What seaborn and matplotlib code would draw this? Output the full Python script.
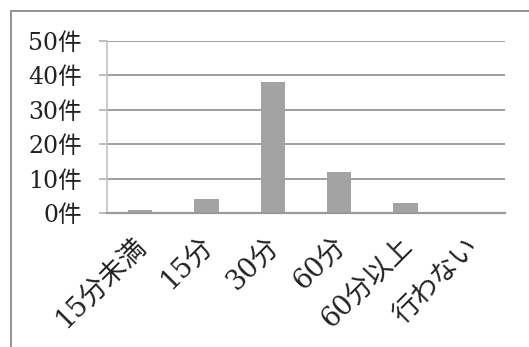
import matplotlib
matplotlib.use("Agg")
import matplotlib.pyplot as plt
import matplotlib.transforms as mtransforms
from matplotlib.patches import Rectangle
import seaborn as sns
import pandas as pd

categories = ["15分未満", "15分", "30分", "60分", "60分以上", "行わない"]
counts = [1, 4, 38, 12, 3, 0]
y_ticks = [0, 10, 20, 30, 40, 50]
y_labels = [f"{v}件" for v in y_ticks]

sns.set_theme(style="white")
plt.rcParams["font.family"] = ["DejaVu Serif", "Noto Sans CJK JP", "DejaVu Sans"]

W, H = 529, 347
fig = plt.figure(figsize=(W / 100, H / 100), dpi=100)
fig.patch.set_facecolor("white")
ax = fig.add_axes([107 / W, 1 - 213 / H, (505 - 107) / W, (213 - 41) / H])

df = pd.DataFrame({"category": categories, "count": counts})
sns.barplot(data=df, x="category", y="count", color="#a3a3a3", width=0.37,
            saturation=1, ax=ax, edgecolor="none")

ax.set_ylim(0, 50)
ax.set_xlim(-0.5, len(categories) - 0.5)
ax.set_yticks(y_ticks)
ax.set_yticklabels(y_labels, fontsize=17, color="#222222")
ax.set_xlabel("")
ax.set_ylabel("")

ax.yaxis.grid(True, color="#9e9e9e", linewidth=1.4)
ax.set_axisbelow(True)
for s in ["top", "right"]:
    ax.spines[s].set_visible(False)
ax.spines["left"].set_color("#c4c4c4")
ax.spines["left"].set_linewidth(1.2)
ax.spines["bottom"].set_color("#9a9a9a")
ax.spines["bottom"].set_linewidth(1.6)

ax.tick_params(axis="y", length=6, width=1.2, color="#b0b0b0", pad=12, left=True)
ax.tick_params(axis="x", length=0, pad=14)

ax.set_xticks(range(len(categories)))
ax.set_xticklabels(categories, rotation=45, ha="right", fontsize=19.5, color="#222222")
shift = mtransforms.ScaledTranslation(12 / 100, 0, fig.dpi_scale_trans)
for lbl in ax.get_xticklabels():
    lbl.set_transform(lbl.get_transform() + shift)

# outer chart frame (open to the right and bottom edges)
frame = Rectangle((10.5 / W, -0.2), 1.5, 1.2 - 10.5 / H, transform=fig.transFigure,
                  fill=False, edgecolor="#8a8a8a", linewidth=1.3, clip_on=False)
fig.patches.append(frame)

fig.savefig("out.png", dpi=100)
